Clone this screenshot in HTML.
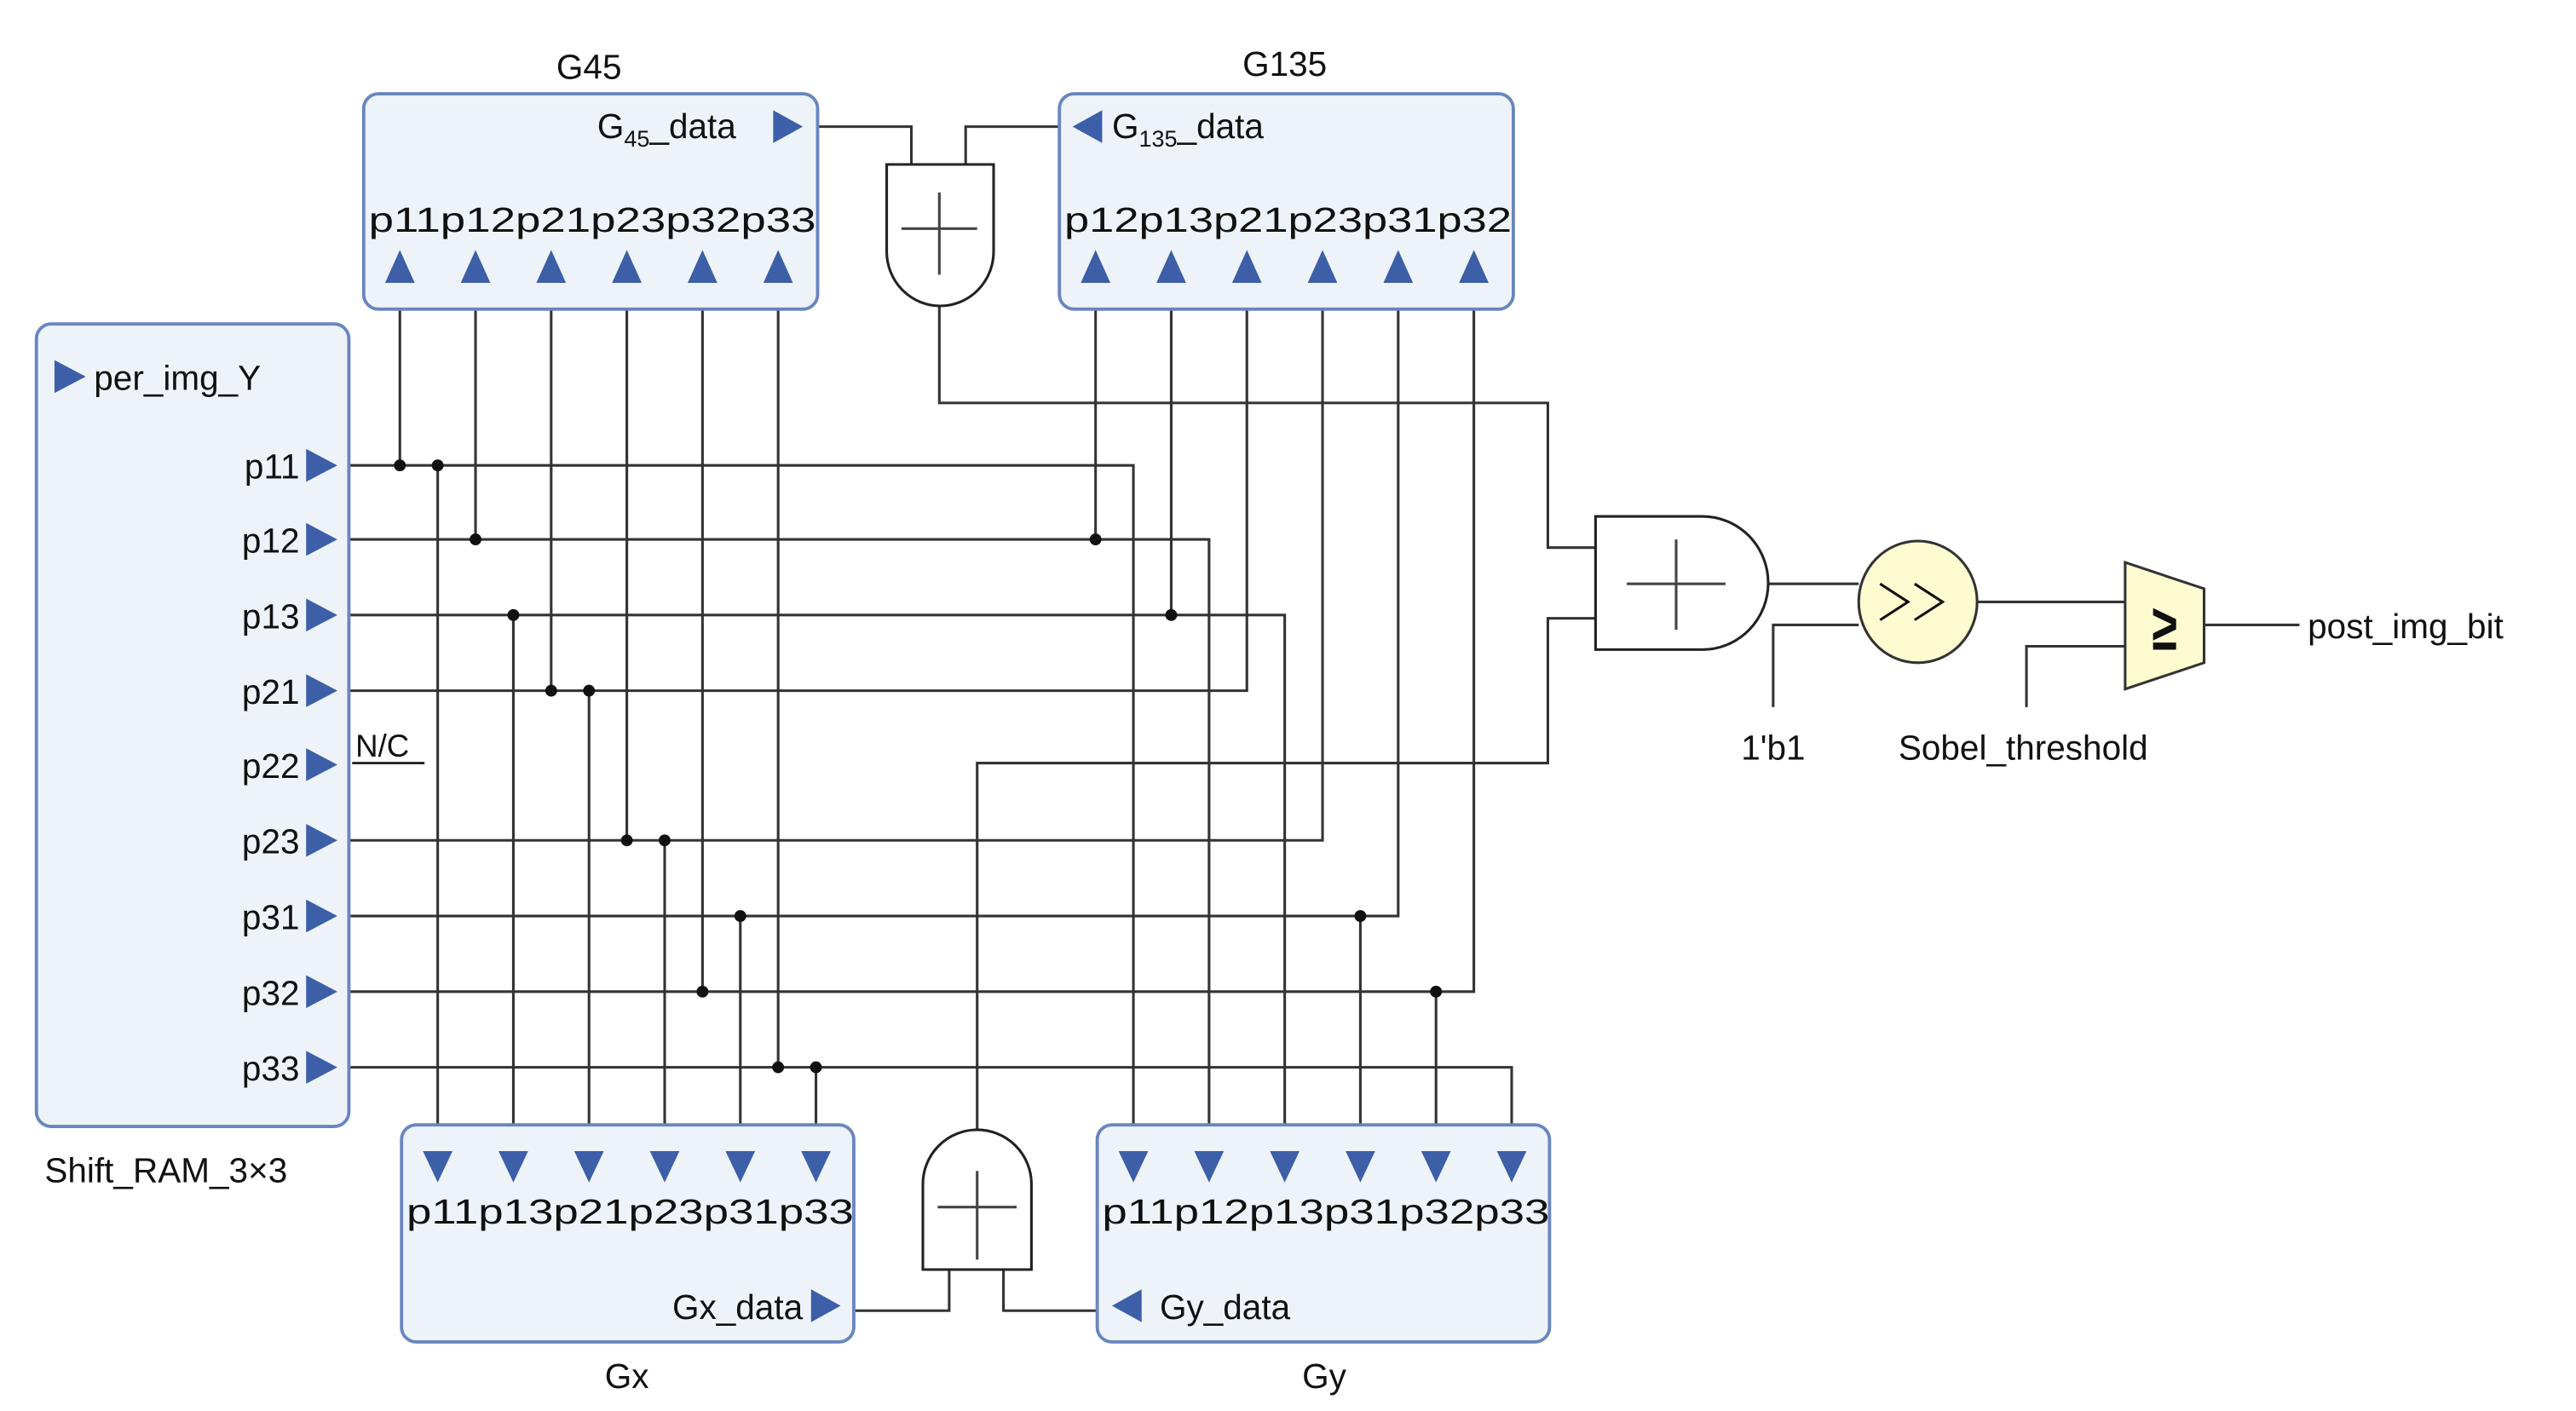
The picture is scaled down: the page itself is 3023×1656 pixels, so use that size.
<!DOCTYPE html>
<html><head><meta charset="utf-8"><style>
html,body{margin:0;padding:0;background:#fff;}
svg{display:block;}
text{font-family:"Liberation Sans",sans-serif;fill:#111;}
</style></head><body>
<svg width="3023" height="1656" viewBox="0 0 1566 858" xmlns="http://www.w3.org/2000/svg">
<defs>
<path id="tu" d="M-9,172 L0,152 L9,172 Z" fill="#3d5fa8"/>
</defs>
<g fill="none" stroke="#333" stroke-width="1.6">
<polyline points="212,283 689,283 689,684"/>
<polyline points="212,328 735,328 735,684"/>
<polyline points="212,374 781,374 781,684"/>
<polyline points="212,420 758,420 758,188"/>
<polyline points="212,511 804,511 804,188"/>
<polyline points="212,557 850,557 850,188"/>
<polyline points="212,603 896,603 896,188"/>
<polyline points="212,649 919,649 919,684"/>
<line x1="243" y1="188" x2="243" y2="283"/>
<line x1="289" y1="188" x2="289" y2="328"/>
<line x1="335" y1="188" x2="335" y2="420"/>
<line x1="381" y1="188" x2="381" y2="511"/>
<line x1="427" y1="188" x2="427" y2="603"/>
<line x1="473" y1="188" x2="473" y2="649"/>
<line x1="266" y1="684" x2="266" y2="283"/>
<line x1="312" y1="684" x2="312" y2="374"/>
<line x1="358" y1="684" x2="358" y2="420"/>
<line x1="404" y1="684" x2="404" y2="511"/>
<line x1="450" y1="684" x2="450" y2="557"/>
<line x1="496" y1="684" x2="496" y2="649"/>
<line x1="666" y1="188" x2="666" y2="328"/>
<line x1="712" y1="188" x2="712" y2="374"/>
<line x1="827" y1="684" x2="827" y2="557"/>
<line x1="873" y1="684" x2="873" y2="603"/>
<polyline points="497,77 554,77 554,100"/>
<polyline points="644,77 587,77 587,100"/>
<polyline points="571,186 571,245 941,245 941,333 970,333"/>
<polyline points="519,797 577,797 577,772"/>
<polyline points="667,797 610,797 610,772"/>
<polyline points="594,687 594,464 941,464 941,376 970,376"/>
<line x1="1075" y1="355" x2="1130" y2="355"/>
<polyline points="1078,430 1078,380 1130,380"/>
<line x1="1202" y1="366" x2="1292" y2="366"/>
<polyline points="1232,430 1232,393 1292,393"/>
<line x1="1340" y1="380" x2="1398" y2="380"/>
</g>
<g fill="#111">
<circle cx="243" cy="283" r="3.6"/><circle cx="266" cy="283" r="3.6"/>
<circle cx="289" cy="328" r="3.6"/><circle cx="666" cy="328" r="3.6"/>
<circle cx="312" cy="374" r="3.6"/><circle cx="712" cy="374" r="3.6"/>
<circle cx="335" cy="420" r="3.6"/><circle cx="358" cy="420" r="3.6"/>
<circle cx="381" cy="511" r="3.6"/><circle cx="404" cy="511" r="3.6"/>
<circle cx="450" cy="557" r="3.6"/><circle cx="827" cy="557" r="3.6"/>
<circle cx="427" cy="603" r="3.6"/><circle cx="873" cy="603" r="3.6"/>
<circle cx="473" cy="649" r="3.6"/><circle cx="496" cy="649" r="3.6"/>
</g>
<g fill="#eef3f9" stroke="#6a86c0" stroke-width="2">
<rect x="221" y="57" width="276" height="131" rx="9"/>
<rect x="644" y="57" width="276" height="131" rx="9"/>
<rect x="22" y="197" width="190" height="488" rx="9"/>
<rect x="244" y="684" width="275" height="132" rx="9"/>
<rect x="667" y="684" width="275" height="132" rx="9"/>
</g>
<text x="358" y="48" font-size="21" text-anchor="middle">G45</text>
<text x="363" y="84" font-size="21">G<tspan font-size="14" dy="5">45</tspan><tspan dy="-5">_data</tspan></text>
<path d="M470,67 L488,77 L470,87 Z" fill="#3d5fa8"/>
<text x="224" y="141" font-size="21" textLength="272" lengthAdjust="spacingAndGlyphs">p11p12p21p23p32p33</text>
<g><use href="#tu" x="243"/><use href="#tu" x="289"/><use href="#tu" x="335"/><use href="#tu" x="381"/><use href="#tu" x="427"/><use href="#tu" x="473"/></g>
<text x="781" y="46" font-size="21" text-anchor="middle">G135</text>
<path d="M670,67 L652,77 L670,87 Z" fill="#3d5fa8"/>
<text x="676" y="84" font-size="21">G<tspan font-size="14" dy="5">135</tspan><tspan dy="-5">_data</tspan></text>
<text x="647" y="141" font-size="21" textLength="272" lengthAdjust="spacingAndGlyphs">p12p13p21p23p31p32</text>
<g><use href="#tu" x="666"/><use href="#tu" x="712"/><use href="#tu" x="758"/><use href="#tu" x="804"/><use href="#tu" x="850"/><use href="#tu" x="896"/></g>
<path d="M33,219 L52,229 L33,239 Z" fill="#3d5fa8"/>
<text x="57" y="237" font-size="21">per_img_Y</text>
<g font-size="21" text-anchor="end">
<text x="182" y="291">p11</text><text x="182" y="336">p12</text><text x="182" y="382">p13</text>
<text x="182" y="428">p21</text><text x="182" y="473">p22</text><text x="182" y="519">p23</text>
<text x="182" y="565">p31</text><text x="182" y="611">p32</text><text x="182" y="657">p33</text>
</g>
<g fill="#3d5fa8">
<path d="M186,273 L205,283 L186,293Z"/><path d="M186,318 L205,328 L186,338Z"/><path d="M186,364 L205,374 L186,384Z"/>
<path d="M186,410 L205,420 L186,430Z"/><path d="M186,455 L205,465 L186,475Z"/><path d="M186,501 L205,511 L186,521Z"/>
<path d="M186,547 L205,557 L186,567Z"/><path d="M186,593 L205,603 L186,613Z"/><path d="M186,639 L205,649 L186,659Z"/>
</g>
<text x="216" y="460" font-size="19">N/C</text>
<line x1="214" y1="464" x2="258" y2="464" stroke="#111" stroke-width="1.4"/>
<text x="27" y="719" font-size="21">Shift_RAM_3×3</text>
<g fill="#3d5fa8">
<path d="M257,700 L275,700 L266,719Z"/><path d="M303,700 L321,700 L312,719Z"/><path d="M349,700 L367,700 L358,719Z"/>
<path d="M395,700 L413,700 L404,719Z"/><path d="M441,700 L459,700 L450,719Z"/><path d="M487,700 L505,700 L496,719Z"/>
<path d="M680,700 L698,700 L689,719Z"/><path d="M726,700 L744,700 L735,719Z"/><path d="M772,700 L790,700 L781,719Z"/>
<path d="M818,700 L836,700 L827,719Z"/><path d="M864,700 L882,700 L873,719Z"/><path d="M910,700 L928,700 L919,719Z"/>
<path d="M493,784 L511,794 L493,804Z"/><path d="M694,784 L676,794 L694,804Z"/>
</g>
<text x="247" y="744" font-size="21" textLength="272" lengthAdjust="spacingAndGlyphs">p11p13p21p23p31p33</text>
<text x="670" y="744" font-size="21" textLength="272" lengthAdjust="spacingAndGlyphs">p11p12p13p31p32p33</text>
<text x="488" y="802" font-size="21" text-anchor="end">Gx_data</text>
<text x="705" y="802" font-size="21">Gy_data</text>
<text x="381" y="844" font-size="21" text-anchor="middle">Gx</text>
<text x="805" y="844" font-size="21" text-anchor="middle">Gy</text>
<g fill="#fff" stroke="#222" stroke-width="1.6">
<path d="M539,100 L604,100 L604,153 A32.5,33 0 0 1 539,153 Z"/>
<path d="M561,772 L627,772 L627,720 A33,33 0 0 0 561,720 Z"/>
<path d="M970,314 L1035,314 A40,40.5 0 0 1 1035,395 L970,395 Z"/>
</g>
<g stroke="#444" stroke-width="1.6">
<line x1="571" y1="117" x2="571" y2="167"/><line x1="548" y1="139" x2="594" y2="139"/>
<line x1="594" y1="712" x2="594" y2="766"/><line x1="570" y1="734" x2="618" y2="734"/>
<line x1="1019" y1="328" x2="1019" y2="383"/><line x1="989" y1="355" x2="1049" y2="355"/>
</g>
<ellipse cx="1166" cy="366" rx="36" ry="37" fill="#fdfbd0" stroke="#333" stroke-width="1.6"/>
<polyline points="1143,355 1160,366 1143,377" fill="none" stroke="#111" stroke-width="1.6"/>
<polyline points="1164,355 1181,366 1164,377" fill="none" stroke="#111" stroke-width="1.6"/>
<path d="M1292,342 L1340,358 L1340,403 L1292,419 Z" fill="#fdfbd0" stroke="#333" stroke-width="1.6"/>
<text x="1316" y="395" font-size="40" font-weight="bold" text-anchor="middle" transform="translate(1316 0) scale(0.7 1) translate(-1316 0)">≥</text>
<text x="1403" y="388" font-size="21">post_img_bit</text>
<text x="1078" y="462" font-size="21" text-anchor="middle">1'b1</text>
<text x="1230" y="462" font-size="21" text-anchor="middle">Sobel_threshold</text>
</svg>
</body></html>
